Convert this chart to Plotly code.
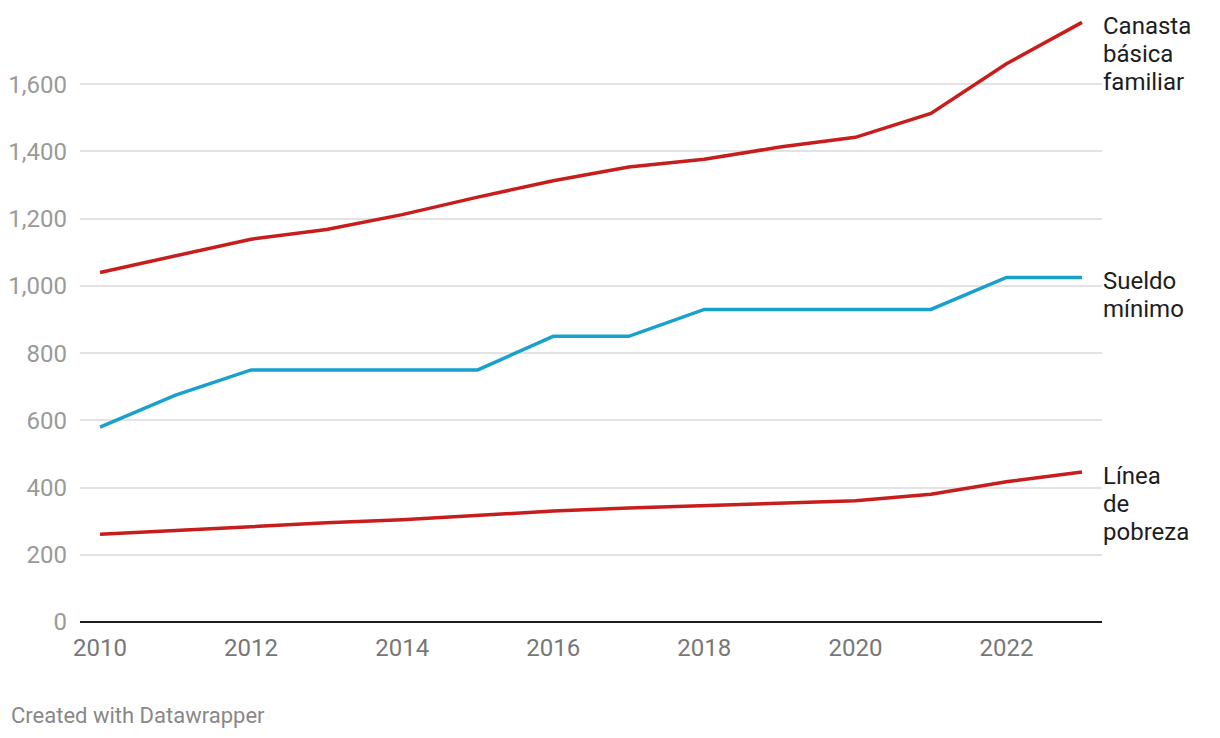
import plotly.graph_objects as go

years = list(range(2010, 2024))
canasta = [1040, 1090, 1139, 1168, 1212, 1264, 1313, 1354, 1377, 1413, 1442, 1513, 1661, 1784]
sueldo = [580, 675, 750, 750, 750, 750, 850, 850, 930, 930, 930, 930, 1025, 1025]
pobreza = [261, 273, 285, 295, 304, 317, 330, 339, 346, 354, 361, 380, 417, 446]

series_labels = [["Canasta", "básica", "familiar"], ["Sueldo", "mínimo"], ["Línea", "de", "pobreza"]]
series_values = [canasta, sueldo, pobreza]
series_colors = ["#c71e1d", "#18a1cd", "#c71e1d"]

y_ticks = [0, 200, 400, 600, 800, 1000, 1200, 1400, 1600]
x_ticks = [2010, 2012, 2014, 2016, 2018, 2020, 2022]

fig = go.Figure()
for lines, vals, col in zip(series_labels, series_values, series_colors):
    fig.add_trace(go.Scatter(x=years, y=vals, mode="lines",
                             line=dict(color=col, width=3.5),
                             hoverinfo="skip", showlegend=False))
    for i, txt in enumerate(lines):
        fig.add_annotation(x=1, xref="paper", y=vals[-1], yref="y",
                           text=txt, showarrow=False, xanchor="left", yanchor="middle",
                           align="left", xshift=-1, yshift=-4 - 28 * i,
                           font=dict(family="Roboto", size=24, color="#1d1d1d"))

fig.add_annotation(x=0, xref="paper", y=0, yref="paper", xanchor="left", yanchor="middle",
                   text="Created with Datawrapper", showarrow=False,
                   xshift=-71, yshift=-93,
                   font=dict(family="Roboto", size=22, color="#888888"))

fig.update_layout(
    width=1204, height=722,
    margin=dict(l=72, r=110, t=9, b=108, autoexpand=False),
    paper_bgcolor="white", plot_bgcolor="white",
    font=dict(family="Roboto"),
    xaxis=dict(range=[2009.735, 2023.265], tickvals=x_ticks, ticktext=[str(v) for v in x_ticks],
               showgrid=False, zeroline=False, showline=False, automargin=False,
               tickfont=dict(size=24, color="#777777"), ticks="", ticklabelstandoff=9),
    yaxis=dict(range=[0, 1800], tickvals=y_ticks, ticktext=[f"{v:,}" for v in y_ticks],
               showgrid=True, gridcolor="#e3e3e3", gridwidth=1.5,
               zeroline=True, zerolinecolor="#1d1d1d", zerolinewidth=2,
               showline=False, ticks="", ticklabelstandoff=12, automargin=False,
               tickfont=dict(size=24, color="#9a9a9a")),
)

fig.write_html("out.html")
